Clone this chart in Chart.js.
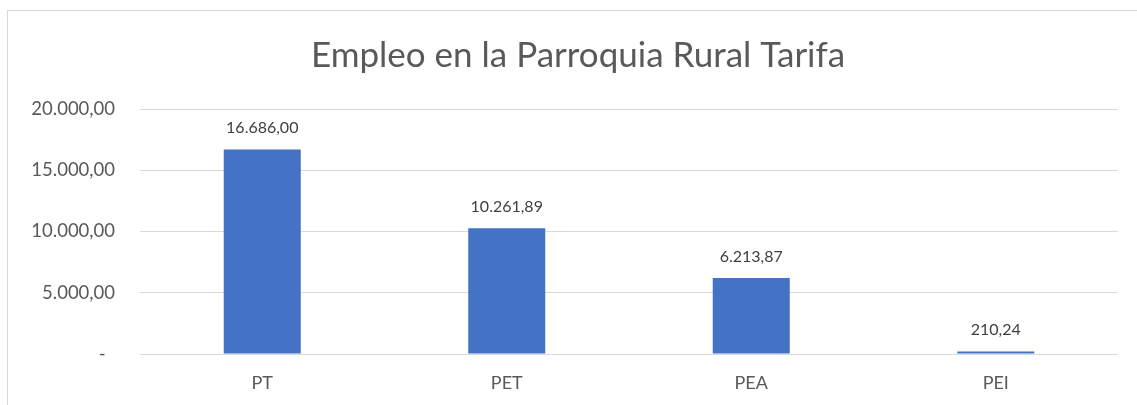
<!DOCTYPE html>
<html>
<head>
<meta charset="utf-8">
<script src="https://cdn.jsdelivr.net/npm/chart.js@4.4.1/dist/chart.umd.min.js"></script>
<style>
  html, body { margin: 0; padding: 0; background: #ffffff; overflow: hidden; }
  #wrap { position: relative; width: 1137px; height: 405px; }
  #frame { position: absolute; left: 7px; top: 10px; width: 1200px; height: 500px;
           border-left: 1px solid #d9d9d9; border-top: 1px solid #d9d9d9; pointer-events: none; }
  canvas { position: absolute; left: 0; top: 0; }
</style>
</head>
<body>
<div id="wrap">
  <canvas id="c" width="1137" height="405"></canvas>
  <div id="frame"></div>
</div>
<script>
const titleText = "Empleo en la Parroquia Rural Tarifa";
const categories = ["PT", "PET", "PEA", "PEI"];
const values = [16686.00, 10261.89, 6213.87, 210.24];
const yTicks = [0, 5000, 10000, 15000, 20000];

const FONT = "Lato, 'Open Sans', sans-serif";

function fmt(v) {
  const neg = v < 0;
  v = Math.abs(v);
  const fixed = v.toFixed(2);
  let [ip, dp] = fixed.split(".");
  ip = ip.replace(/\B(?=(\d{3})+(?!\d))/g, ".");
  return (neg ? "-" : "") + ip + "," + dp;
}

const dataLabels = {
  id: "dataLabels",
  afterDatasetsDraw(chart) {
    const ctx = chart.ctx;
    const meta = chart.getDatasetMeta(0);
    ctx.save();
    ctx.font = "16px " + FONT;
    ctx.fillStyle = "#404040";
    ctx.textAlign = "center";
    ctx.textBaseline = "middle";
    meta.data.forEach((bar, i) => {
      ctx.fillText(fmt(values[i]), bar.x, bar.y - 21.5);
    });
    ctx.restore();
  }
};

// Centre the title over the framed chart region rather than the whole canvas.
const titleShift = {
  id: "titleShift",
  afterLayout(chart) {
    const t = chart.titleBlock;
    if (t) {
      t.left = 38;
      t.right = chart.width - 19;
      t.width = t.right - t.left;
    }
  }
};

new Chart(document.getElementById("c"), {
  type: "bar",
  data: {
    labels: categories,
    datasets: [{
      data: values,
      backgroundColor: "#4472C4",
      borderWidth: 0,
      barPercentage: 1,
      categoryPercentage: 0.315
    }]
  },
  options: {
    responsive: false,
    animation: false,
    devicePixelRatio: 1,
    layout: { padding: { left: 0, right: 19, top: 0, bottom: 12 } },
    plugins: {
      legend: { display: false },
      tooltip: { enabled: false },
      title: {
        display: true,
        text: titleText,
        color: "#595959",
        font: { family: FONT, size: 35, weight: "normal" },
        padding: { top: 34.4, bottom: 32.6 }
      }
    },
    scales: {
      x: {
        afterFit(scale) { scale.height = 39; },
        grid: { display: false, drawTicks: false },
        border: { display: false },
        ticks: { color: "#595959", font: { family: FONT, size: 18 }, padding: 18 }
      },
      y: {
        min: 0,
        max: 20000,
        afterBuildTicks(scale) { scale.ticks = yTicks.map(v => ({ value: v })); },
        afterFit(scale) { scale.width = 140; },
        grid: { color: "#d9d9d9", lineWidth: 1, drawTicks: false },
        border: { display: false },
        ticks: {
          color: "#595959",
          font: { family: FONT, size: 18.5 },
          padding: 25,
          callback: (v) => v === 0 ? "-\u00A0\u00A0" : fmt(v)
        }
      }
    }
  },
  plugins: [dataLabels, titleShift]
});
</script>
</body>
</html>
